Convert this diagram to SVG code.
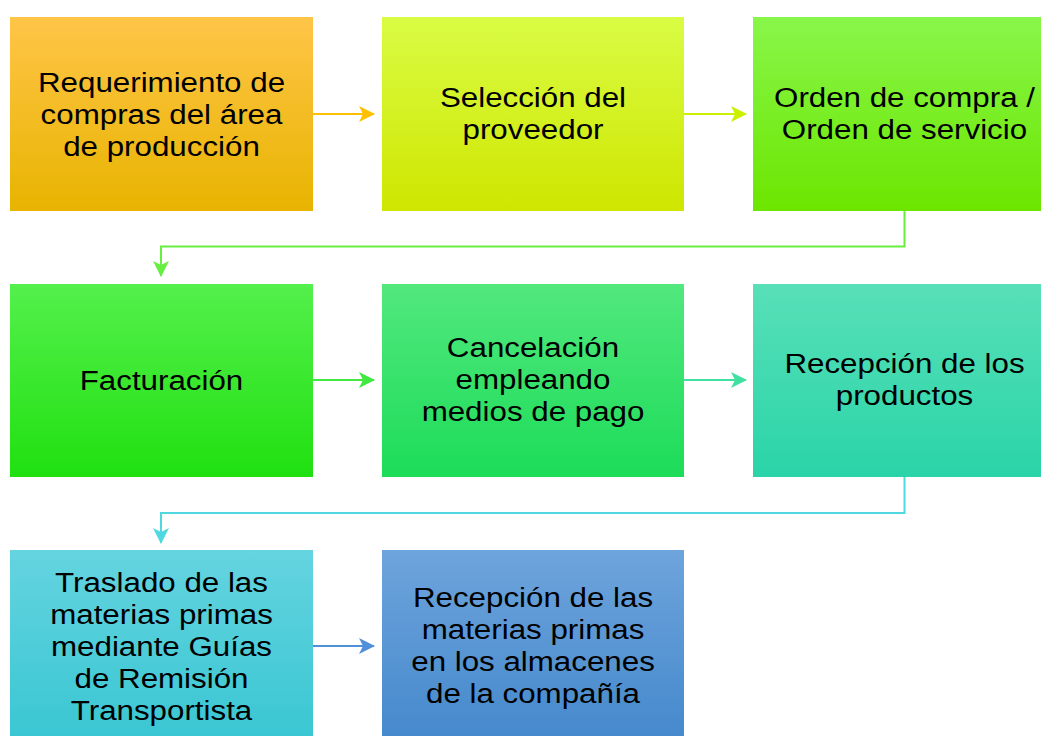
<svg xmlns="http://www.w3.org/2000/svg" width="1041" height="736" viewBox="0 0 1041 736">
<style>
.t{font-family:"Liberation Sans",Arial,sans-serif;font-size:27px;fill:#000;text-anchor:middle}
.c{fill:none;stroke-width:2}
</style>
<defs>
<linearGradient id="g1" x1="0" y1="0" x2="0" y2="1"><stop offset="0" stop-color="#FFC548"/><stop offset="1" stop-color="#E8B400"/></linearGradient>
<linearGradient id="g2" x1="0" y1="0" x2="0" y2="1"><stop offset="0" stop-color="#D9FC44"/><stop offset="1" stop-color="#CFE600"/></linearGradient>
<linearGradient id="g3" x1="0" y1="0" x2="0" y2="1"><stop offset="0" stop-color="#88F64A"/><stop offset="1" stop-color="#6CE600"/></linearGradient>
<linearGradient id="g4" x1="0" y1="0" x2="0" y2="1"><stop offset="0" stop-color="#54F04C"/><stop offset="1" stop-color="#20E010"/></linearGradient>
<linearGradient id="g5" x1="0" y1="0" x2="0" y2="1"><stop offset="0" stop-color="#52E87E"/><stop offset="1" stop-color="#1CDC58"/></linearGradient>
<linearGradient id="g6" x1="0" y1="0" x2="0" y2="1"><stop offset="0" stop-color="#58E0B8"/><stop offset="1" stop-color="#2AD4A8"/></linearGradient>
<linearGradient id="g7" x1="0" y1="0" x2="0" y2="1"><stop offset="0" stop-color="#64D4E0"/><stop offset="1" stop-color="#38C6D2"/></linearGradient>
<linearGradient id="g8" x1="0" y1="0" x2="0" y2="1"><stop offset="0" stop-color="#6EA4DC"/><stop offset="1" stop-color="#4488CC"/></linearGradient>
<marker id="m1" viewBox="0 0 16 16" refX="15" refY="8" markerWidth="16" markerHeight="16" markerUnits="userSpaceOnUse" orient="auto"><path d="M0,0 L16,8 L0,16 L4,8 Z" fill="#FFC000"/></marker>
<marker id="m2" viewBox="0 0 16 16" refX="15" refY="8" markerWidth="16" markerHeight="16" markerUnits="userSpaceOnUse" orient="auto"><path d="M0,0 L16,8 L0,16 L4,8 Z" fill="#CCF000"/></marker>
<marker id="m3" viewBox="0 0 16 16" refX="15" refY="8" markerWidth="16" markerHeight="16" markerUnits="userSpaceOnUse" orient="auto"><path d="M0,0 L16,8 L0,16 L4,8 Z" fill="#66EE40"/></marker>
<marker id="m4" viewBox="0 0 16 16" refX="15" refY="8" markerWidth="16" markerHeight="16" markerUnits="userSpaceOnUse" orient="auto"><path d="M0,0 L16,8 L0,16 L4,8 Z" fill="#40E840"/></marker>
<marker id="m5" viewBox="0 0 16 16" refX="15" refY="8" markerWidth="16" markerHeight="16" markerUnits="userSpaceOnUse" orient="auto"><path d="M0,0 L16,8 L0,16 L4,8 Z" fill="#40E0A0"/></marker>
<marker id="m6" viewBox="0 0 16 16" refX="15" refY="8" markerWidth="16" markerHeight="16" markerUnits="userSpaceOnUse" orient="auto"><path d="M0,0 L16,8 L0,16 L4,8 Z" fill="#50D8E0"/></marker>
<marker id="m7" viewBox="0 0 16 16" refX="15" refY="8" markerWidth="16" markerHeight="16" markerUnits="userSpaceOnUse" orient="auto"><path d="M0,0 L16,8 L0,16 L4,8 Z" fill="#5090D8"/></marker>
</defs>
<rect width="1041" height="736" fill="#fff"/>
<g id="connectors">
<path class="c" d="M313,114 H374" stroke="#FFC000" marker-end="url(#m1)"/>
<path class="c" d="M684,114 H746" stroke="#CCF000" marker-end="url(#m2)"/>
<path class="c" d="M904.5,211 V246.5 H161 V276" stroke="#66EE40" marker-end="url(#m3)"/>
<path class="c" d="M313,380 H374" stroke="#40E840" marker-end="url(#m4)"/>
<path class="c" d="M684,380 H746" stroke="#40E0A0" marker-end="url(#m5)"/>
<path class="c" d="M904.5,477 V513 H161 V543" stroke="#50D8E0" marker-end="url(#m6)"/>
<path class="c" d="M313,646 H374" stroke="#5090D8" marker-end="url(#m7)"/>
</g>
<g id="n1"><rect x="10" y="17" width="303" height="194" fill="url(#g1)"/>
<g transform="translate(161.5,0) scale(1.16,1)"><text class="t" x="0" y="92">Requerimiento de</text><text class="t" x="0" y="124">compras del área</text><text class="t" x="0" y="156">de producción</text></g></g>
<g id="n2"><rect x="382" y="17" width="302" height="194" fill="url(#g2)"/>
<g transform="translate(533,0) scale(1.16,1)"><text class="t" x="0" y="107">Selección del</text><text class="t" x="0" y="139">proveedor</text></g></g>
<g id="n3"><rect x="753" y="17" width="303" height="194" fill="url(#g3)"/>
<g transform="translate(904.5,0) scale(1.16,1)"><text class="t" x="0" y="107">Orden de compra /</text><text class="t" x="0" y="139">Orden de servicio</text></g></g>
<g id="n4"><rect x="10" y="284" width="303" height="193" fill="url(#g4)"/>
<g transform="translate(161.5,0) scale(1.16,1)"><text class="t" x="0" y="390">Facturación</text></g></g>
<g id="n5"><rect x="382" y="284" width="302" height="193" fill="url(#g5)"/>
<g transform="translate(533,0) scale(1.16,1)"><text class="t" x="0" y="357">Cancelación</text><text class="t" x="0" y="389">empleando</text><text class="t" x="0" y="421">medios de pago</text></g></g>
<g id="n6"><rect x="753" y="284" width="303" height="193" fill="url(#g6)"/>
<g transform="translate(904.5,0) scale(1.16,1)"><text class="t" x="0" y="373">Recepción de los</text><text class="t" x="0" y="405">productos</text></g></g>
<g id="n7"><rect x="10" y="550" width="303" height="194" fill="url(#g7)"/>
<g transform="translate(161.5,0) scale(1.16,1)"><text class="t" x="0" y="592">Traslado de las</text><text class="t" x="0" y="624">materias primas</text><text class="t" x="0" y="656">mediante Guías</text><text class="t" x="0" y="688">de Remisión</text><text class="t" x="0" y="720">Transportista</text></g></g>
<g id="n8"><rect x="382" y="550" width="302" height="194" fill="url(#g8)"/>
<g transform="translate(533,0) scale(1.16,1)"><text class="t" x="0" y="607">Recepción de las</text><text class="t" x="0" y="639">materias primas</text><text class="t" x="0" y="671">en los almacenes</text><text class="t" x="0" y="703">de la compañía</text></g></g>
</svg>
